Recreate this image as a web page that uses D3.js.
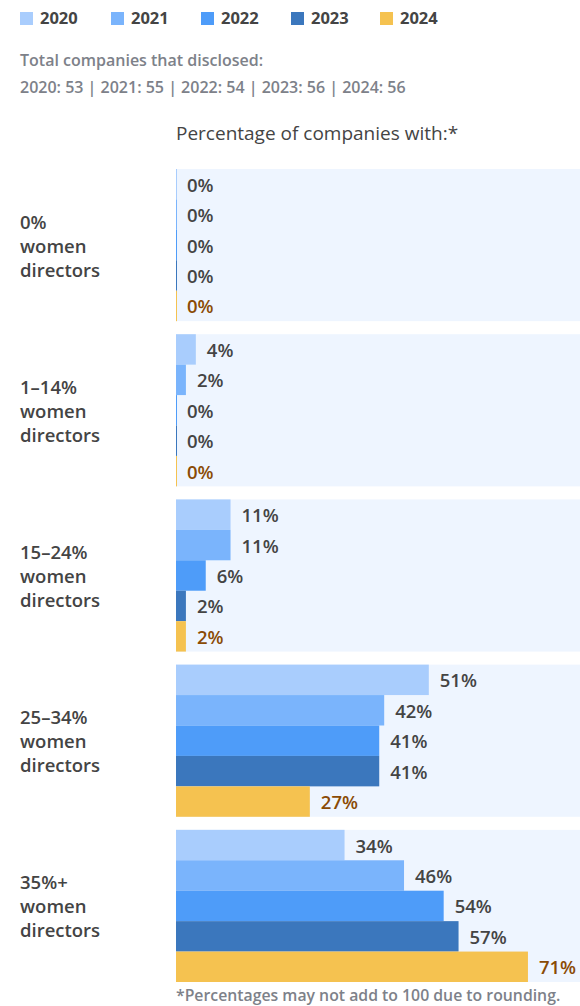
<!DOCTYPE html>
<html><head><meta charset="utf-8">
<script src="https://cdn.jsdelivr.net/npm/d3@7/dist/d3.min.js"></script>
<style>
body{margin:0;background:#fff;}
svg{display:block;font-family:"Open Sans",sans-serif;}
</style></head>
<body><svg id="c" width="580" height="1006"></svg>
<script>
const years = ["2020","2021","2022","2023","2024"];
const colors = ["#a9cdfd","#7ab4fc","#4e9cf9","#3b77bd","#f5c250"];
const categories = [["0%","women","directors"],["1–14%","women","directors"],["15–24%","women","directors"],["25–34%","women","directors"],["35%+","women","directors"]];
const v2020 = [0,4,11,51,34];
const v2021 = [0,2,11,42,46];
const v2022 = [0,0,6,41,54];
const v2023 = [0,0,2,41,57];
const v2024 = [0,0,2,27,71];
const series = [v2020,v2021,v2022,v2023,v2024];

const svg = d3.select("#c");
const left = 176, right = 580;
const x = d3.scaleLinear().domain([0,81.5]).range([left,right]);
const yG = d3.scaleBand().domain(d3.range(categories.length)).range([169,982]).paddingInner(0.079).paddingOuter(0);
const yB = d3.scaleBand().domain(years).range([0,yG.bandwidth()]);

// legend
const leg = svg.append("g");
const legX = [20,111,201,291,380];
years.forEach((yr,i)=>{
  leg.append("rect").attr("x",legX[i]).attr("y",12).attr("width",13).attr("height",13).attr("fill",colors[i]);
  leg.append("text").attr("x",legX[i]+20).attr("y",18.5).attr("dy","0.35em").text(yr).attr("font-size",16.5).attr("font-weight",700).attr("fill","#444");
});
svg.append("text").attr("x",20).attr("y",66).text("Total companies that disclosed:").attr("font-size",16).attr("font-weight",600).attr("fill","#7d8189");
svg.append("text").attr("x",20).attr("y",93).text("2020: 53 | 2021: 55 | 2022: 54 | 2023: 56 | 2024: 56").attr("font-size",16).attr("font-weight",600).attr("fill","#7d8189");
svg.append("text").attr("x",176).attr("y",140).text("Percentage of companies with:*").attr("font-size",19).attr("font-weight",500).attr("fill","#444");

categories.forEach((cat,ci)=>{
  const g = svg.append("g").attr("transform",`translate(0,${yG(ci)})`);
  g.append("rect").attr("x",left).attr("y",0).attr("width",right-left).attr("height",yG.bandwidth()).attr("fill","#eef5ff");
  const cy = yG.bandwidth()/2;
  cat.forEach((t,li)=>{
    g.append("text").attr("x",20).attr("y",cy+(li-1)*24+1).attr("dy","0.35em").text(t).attr("font-size",18.5).attr("font-weight",600).attr("fill","#444");
  });
  years.forEach((yr,si)=>{
    const v = series[si][ci];
    const w = Math.max(1, x(v)-x(0));
    g.append("rect").attr("x",x(0)).attr("y",yB(yr)).attr("width",w).attr("height",yB.bandwidth()).attr("fill",colors[si]);
    g.append("text").attr("x",x(v)+11).attr("y",yB(yr)+yB.bandwidth()/2+1).attr("dy","0.35em").text(v+"%")
      .attr("font-size",18.5).attr("font-weight",600).attr("fill", si===4?"#8a4b05":"#444");
  });
});
svg.append("text").attr("x",176).attr("y",1001).text("*Percentages may not add to 100 due to rounding.").attr("font-size",15.8).attr("font-weight",600).attr("fill","#7d8189");
</script></body></html>
